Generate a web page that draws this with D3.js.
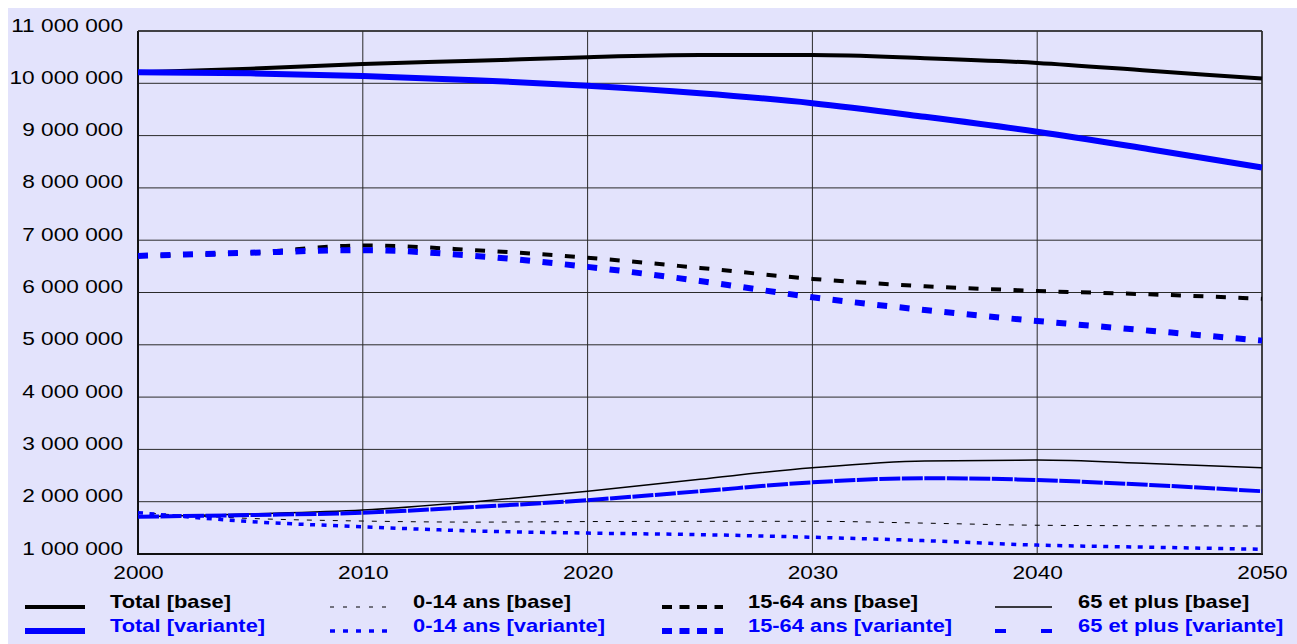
<!DOCTYPE html>
<html lang="fr">
<head>
<meta charset="utf-8">
<script src="https://cdn.jsdelivr.net/npm/d3@7"></script>
<style>
  html, body { margin: 0; padding: 0; background: #ffffff; }
  svg { display: block; font-family: "Liberation Sans", Arial, sans-serif; }
</style>
</head>
<body>
<svg id="chart" width="1297" height="644"></svg>
<script>
// Population projections, 2000-2050 (scénario de base vs variante)
const years = [2000, 2005, 2010, 2015, 2020, 2025, 2030, 2035, 2040, 2045, 2050];

const totalBase     = [10210000, 10280000, 10370000, 10430000, 10500000, 10540000, 10540000, 10480000, 10390000, 10240000, 10090000];
const totalVariante = [10210000, 10190000, 10140000, 10060000, 9955000, 9810000, 9620000, 9360000, 9075000, 8740000, 8390000];
const jeunesBase     = [1790000, 1680000, 1630000, 1610000, 1620000, 1625000, 1625000, 1590000, 1550000, 1540000, 1535000];
const jeunesVariante = [1790000, 1620000, 1520000, 1440000, 1400000, 1370000, 1320000, 1255000, 1170000, 1130000, 1090000];
const actifsBase     = [6700000, 6760000, 6900000, 6810000, 6665000, 6470000, 6260000, 6120000, 6030000, 5965000, 5880000];
const actifsVariante = [6700000, 6760000, 6810000, 6700000, 6490000, 6220000, 5910000, 5665000, 5455000, 5270000, 5080000];
const agesBase     = [1713000, 1765000, 1840000, 2000000, 2200000, 2430000, 2650000, 2780000, 2795000, 2730000, 2650000];
const agesVariante = [1713000, 1745000, 1790000, 1900000, 2030000, 2200000, 2370000, 2450000, 2415000, 2320000, 2200000];

const yTicks = [1000000, 2000000, 3000000, 4000000, 5000000, 6000000, 7000000, 8000000, 9000000, 10000000, 11000000];
const xTicks = [2000, 2010, 2020, 2030, 2040, 2050];

const seriesNames = [
  "Total [base]", "Total [variante]",
  "0-14 ans [base]", "0-14 ans [variante]",
  "15-64 ans [base]", "15-64 ans [variante]",
  "65 et plus [base]", "65 et plus [variante]"
];
const seriesValues = [totalBase, totalVariante, jeunesBase, jeunesVariante, actifsBase, actifsVariante, agesBase, agesVariante];

// Line styles, one per series (same order as the names above)
const BLACK = "#000000", BLUE = "#0000ff";
const styles = [
  { color: BLACK, width: 4,   dash: null,      legendDash: null },
  { color: BLUE,  width: 6,   dash: null,      legendDash: null },
  { color: BLACK, width: 1,   dash: "5,8",     legendDash: "4,9" },
  { color: BLUE,  width: 3.5, dash: "5,6.5",   legendDash: "5,8" },
  { color: BLACK, width: 4,   dash: "10,12.5", legendDash: "10,7.5" },
  { color: BLUE,  width: 6,   dash: "10,12.5", legendDash: "10,7.5" },
  { color: BLACK, width: 1.5, dash: null,      legendDash: null },
  { color: BLUE,  width: 4,   dash: "21,1.5",  legendDash: "11,35" }
];

const svg = d3.select("#chart");
const W = 1297, H = 644;
const plot = { left: 138, right: 1262, top: 31, bottom: 554 };
const AXIS_STRETCH = 1.26;
const LEGEND_STRETCH = 1.25;

// Page background
svg.append("rect").attr("x", 8).attr("y", 8).attr("width", W - 8).attr("height", H - 8).attr("fill", "#e3e3fc");

const x = d3.scaleLinear().domain([2000, 2050]).range([plot.left, plot.right]);
const y = d3.scaleLinear().domain([1000000, 11000000]).range([plot.bottom, plot.top]);

// Grid
const grid = svg.append("g");
grid.selectAll("line.h").data(yTicks).join("line")
  .attr("x1", plot.left).attr("x2", plot.right)
  .attr("y1", d => y(d)).attr("y2", d => y(d))
  .attr("stroke", "#2a2a2a").attr("stroke-width", 1);
grid.selectAll("line.v").data(xTicks).join("line")
  .attr("x1", d => x(d)).attr("x2", d => x(d))
  .attr("y1", plot.top).attr("y2", plot.bottom)
  .attr("stroke", "#2a2a2a").attr("stroke-width", 1);

// Frame: heavier left and bottom edges
svg.append("line").attr("x1", plot.left).attr("x2", plot.left).attr("y1", plot.top).attr("y2", plot.bottom + 1)
  .attr("stroke", "#111").attr("stroke-width", 2);
svg.append("line").attr("x1", plot.left - 1).attr("x2", plot.right + 1).attr("y1", plot.bottom).attr("y2", plot.bottom)
  .attr("stroke", "#111").attr("stroke-width", 2);
svg.append("line").attr("x1", plot.right).attr("x2", plot.right).attr("y1", plot.top).attr("y2", plot.bottom)
  .attr("stroke", "#2a2a2a").attr("stroke-width", 1.5);
svg.append("line").attr("x1", plot.left).attr("x2", plot.right).attr("y1", plot.top).attr("y2", plot.top)
  .attr("stroke", "#2a2a2a").attr("stroke-width", 1.5);

// Axes (labels only)
const fmt = v => d3.format(",")(v).replace(/,/g, " ");
const yAxis = svg.append("g").attr("transform", `translate(${plot.left},0)`)
  .call(d3.axisLeft(y).tickValues(yTicks).tickFormat(fmt).tickSize(0));
yAxis.select(".domain").remove();
yAxis.selectAll("text")
  .attr("x", null).attr("dy", null)
  .attr("transform", `translate(-15,0) scale(${AXIS_STRETCH},1)`)
  .attr("text-anchor", "end")
  .attr("font-size", 18).attr("font-family", "Liberation Sans, Arial, sans-serif").attr("fill", "#000");

const xAxis = svg.append("g").attr("transform", `translate(0,${plot.bottom})`)
  .call(d3.axisBottom(x).tickValues(xTicks).tickFormat(d3.format("d")).tickSize(0));
xAxis.select(".domain").remove();
xAxis.selectAll("text")
  .attr("y", null).attr("dy", null)
  .attr("transform", `translate(0,25) scale(${AXIS_STRETCH},1)`)
  .attr("text-anchor", "middle")
  .attr("font-size", 18).attr("font-family", "Liberation Sans, Arial, sans-serif").attr("fill", "#000");

// Series lines
const line = d3.line().x((d, i) => x(years[i])).y(d => y(d)).curve(d3.curveMonotoneX);
const drawOrder = [0, 1, 2, 3, 4, 5, 6, 7];
svg.append("g").selectAll("path").data(drawOrder).join("path")
  .attr("d", k => line(seriesValues[k]))
  .attr("fill", "none")
  .attr("stroke", k => styles[k].color)
  .attr("stroke-width", k => styles[k].width)
  .attr("stroke-dasharray", k => styles[k].dash)
  .attr("stroke-linejoin", "round");

// Legend: four columns, base on top row, variante below
const legendCols = [
  { lx1: 25, lx2: 85, tx: 110 },
  { lx1: 330, lx2: 389, tx: 413 },
  { lx1: 662, lx2: 723, tx: 748 },
  { lx1: 995, lx2: 1052, tx: 1078 }
];
const legendRows = [{ ly: 607, ty: 608 }, { ly: 631, ty: 632 }];
const legend = svg.append("g");
seriesNames.forEach((name, k) => {
  const col = legendCols[Math.floor(k / 2)];
  const row = legendRows[k % 2];
  const st = styles[k];
  legend.append("line")
    .attr("x1", col.lx1).attr("x2", col.lx2).attr("y1", row.ly).attr("y2", row.ly)
    .attr("stroke", st.color).attr("stroke-width", st.width)
    .attr("stroke-dasharray", st.legendDash);
  legend.append("text")
    .attr("transform", `translate(${col.tx},${row.ty}) scale(${LEGEND_STRETCH},1)`)
    .attr("font-size", 17.5).attr("font-weight", "bold")
    .attr("fill", st.color)
    .text(name);
});
</script>
</body>
</html>
